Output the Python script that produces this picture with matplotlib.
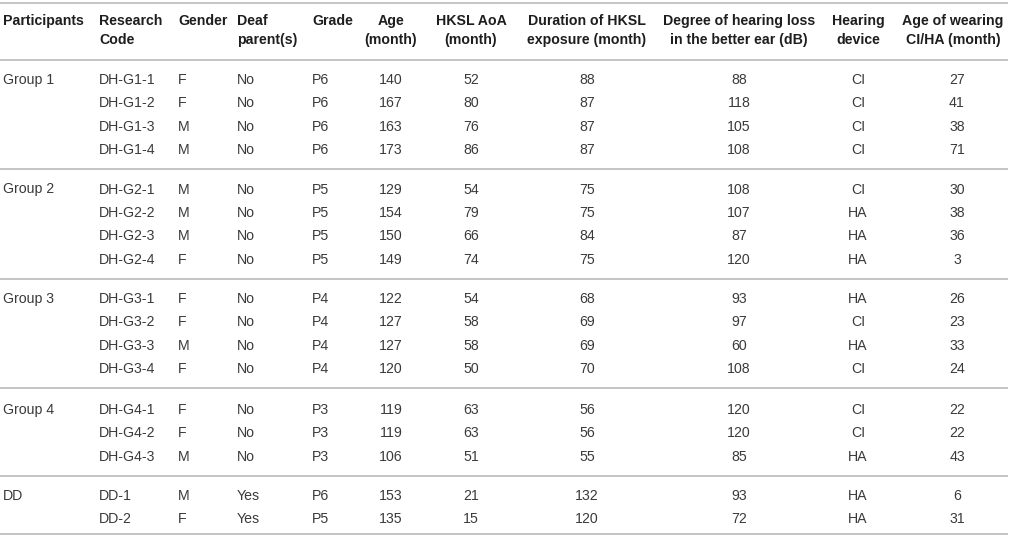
import matplotlib
matplotlib.use('Agg')
import matplotlib.pyplot as plt

# column headers, two lines each
headers = [
    ('Participants', ''),
    ('Research', 'Code'),
    ('Gender', ''),
    ('Deaf', 'parent(s)'),
    ('Grade', ''),
    ('Age', '(month)'),
    ('HKSL AoA', '(month)'),
    ('Duration of HKSL', 'exposure (month)'),
    ('Degree of hearing loss', 'in the better ear (dB)'),
    ('Hearing', 'device'),
    ('Age of wearing', 'CI/HA (month)'),
]

groups = ['Group 1', 'Group 2', 'Group 3', 'Group 4', 'DD']
codes = [
    ['DH-G1-1', 'DH-G1-2', 'DH-G1-3', 'DH-G1-4'],
    ['DH-G2-1', 'DH-G2-2', 'DH-G2-3', 'DH-G2-4'],
    ['DH-G3-1', 'DH-G3-2', 'DH-G3-3', 'DH-G3-4'],
    ['DH-G4-1', 'DH-G4-2', 'DH-G4-3'],
    ['DD-1', 'DD-2'],
]
gender = ['F', 'F', 'M', 'M', 'M', 'M', 'M', 'F', 'F', 'F', 'M', 'F', 'F', 'F', 'M', 'M', 'F']
deaf_parents = ['No'] * 15 + ['Yes', 'Yes']
grade = ['P6'] * 4 + ['P5'] * 4 + ['P4'] * 4 + ['P3'] * 3 + ['P6', 'P5']
age = [140, 167, 163, 173, 129, 154, 150, 149, 122, 127, 127, 120, 119, 119, 106, 153, 135]
hksl_aoa = [52, 80, 76, 86, 54, 79, 66, 74, 54, 58, 58, 50, 63, 63, 51, 21, 15]
exposure = [88, 87, 87, 87, 75, 75, 84, 75, 68, 69, 69, 70, 56, 56, 55, 132, 120]
hearing_loss = [88, 118, 105, 108, 108, 107, 87, 120, 93, 97, 60, 108, 120, 120, 85, 93, 72]
device = ['CI', 'CI', 'CI', 'CI', 'CI', 'HA', 'HA', 'HA', 'HA', 'CI', 'HA', 'CI', 'CI', 'CI', 'HA', 'HA', 'HA']
age_wearing = [27, 41, 38, 71, 30, 38, 36, 3, 26, 23, 33, 24, 22, 22, 43, 6, 31]

# layout in pixels
W, H = 1015, 539
col_x = [3, 99, 178, 237, 312, 391, 471, 587, 739, 858, 953]
col_ha = ['left'] * 5 + ['center'] * 6
val_x = list(col_x)
val_x[10] = 957
row_h = 23.4
group_top = [79, 188.5, 298, 409, 495]
rules = [3, 60, 169, 278.5, 388, 476, 534]
line_col = '#c4c4c4'
body_col = '#3a3a3a'
head_col = '#1e1e1e'
cap = 5.0  # half cap height, to put baseline under the visual centre

plt.rcParams['font.family'] = ['Liberation Sans', 'DejaVu Sans']
fig = plt.figure(figsize=(W / 100, H / 100), dpi=100)
ax = fig.add_axes([0, 0, 1, 1])
ax.set_xlim(0, W)
ax.set_ylim(H, 0)
ax.axis('off')

fs = 10.2

for r in rules:
    ax.plot([0, 1008], [r, r], color=line_col, lw=1.4, solid_capstyle='butt')

# header
for i, (l1, l2) in enumerate(headers):
    ax.text(col_x[i], 20 + cap, l1, ha=col_ha[i], va='baseline', fontsize=fs,
            fontweight='bold', color=head_col)
    if l2:
        ax.text(col_x[i], 39 + cap, l2, ha=col_ha[i], va='baseline', fontsize=fs,
                fontweight='bold', color=head_col)

k = 0
for g, name in enumerate(groups):
    for j, code in enumerate(codes[g]):
        y = group_top[g] + j * row_h
        cells = [name if j == 0 else '', code, gender[k], deaf_parents[k], grade[k],
                 str(age[k]), str(hksl_aoa[k]), str(exposure[k]), str(hearing_loss[k]),
                 device[k], str(age_wearing[k])]
        for c, txt in enumerate(cells):
            if txt:
                ax.text(val_x[c], y + cap, txt, ha=col_ha[c], va='baseline',
                        fontsize=fs, color=body_col)
        k += 1

fig.savefig('out.png', dpi=100, facecolor='white')
